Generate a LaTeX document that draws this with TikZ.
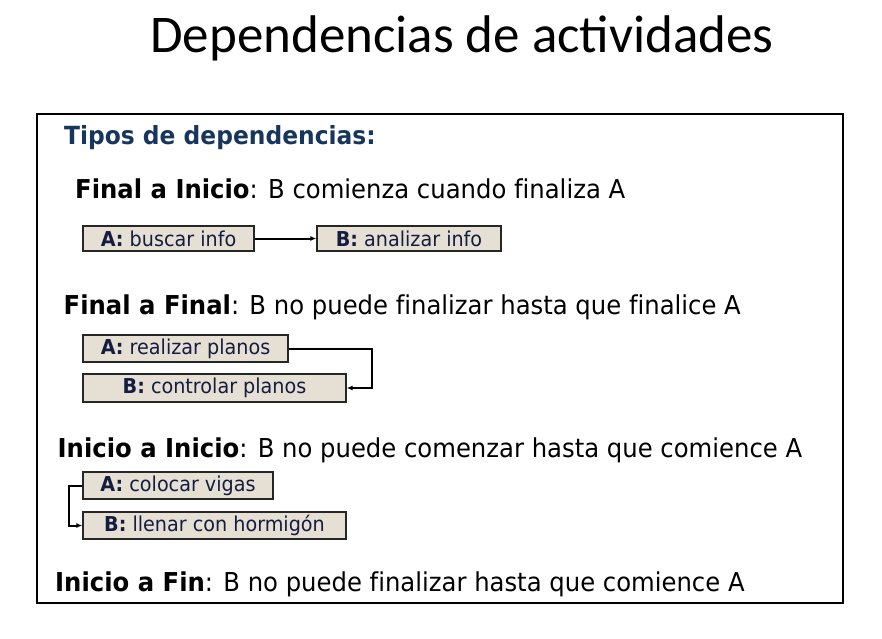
\documentclass[tikz,border=0pt]{standalone}
\usepackage{fontspec}
\setmainfont{DejaVu Sans}[FakeStretch=0.935, Ligatures=NoCommon]
\newfontfamily\titlefont{Carlito}
\usetikzlibrary{arrows.meta}
\definecolor{headblue}{RGB}{23,54,93}
\definecolor{taskfill}{RGB}{230,224,212}
\definecolor{tasktext}{RGB}{20,28,64}
\begin{document}
\begin{tikzpicture}[
      x=1pt, y=1pt,
      heading/.style={anchor=base west, inner sep=0, font=\fontsize{26}{30}\selectfont},
      task/.style={draw=black!85, line width=1.4pt, fill=taskfill, inner sep=0,
        text=tasktext, font=\fontsize{20.5}{24}\selectfont},
      arrow/.style={-{Latex[length=6pt, width=5pt]}, line width=2pt}
    ]
    \useasboundingbox (0,0) rectangle (882,-638);
    \node[anchor=base, inner sep=0, font=\titlefont\fontsize{53}{60}\selectfont]
      at (462,-52) (title) {Dependencias de actividades};
    \draw[line width=2.6pt] (37,-114) rectangle (843,-603);

    \node[heading, text=headblue, font=\bfseries\fontsize{25}{28}\selectfont]
      at (64,-144.5) (tipos) {Tipos de dependencias:};
    \node[heading] at (75,-198.5) (fi) {\textbf{Final a Inicio}: B comienza cuando finaliza A};
    \node[heading] at (63.5,-314.5) (ff) {\textbf{Final a Final}: B no puede finalizar hasta que finalice A};
    \node[heading] at (57.5,-457.5) (ii) {\textbf{Inicio a Inicio}: B no puede comenzar hasta que comience A};
    \node[heading] at (55,-591.5) (ifin) {\textbf{Inicio a Fin}: B no puede finalizar hasta que comience A};

    \node[task, minimum width=171, minimum height=25] at (168.5,-238.5) (buscar) {\textbf{A:} buscar info};
    \node[task, minimum width=184, minimum height=25] at (409,-238.5) (analizar) {\textbf{B:} analizar info};
    \node[task, minimum width=205, minimum height=27] at (185.5,-348.5) (realizar) {\textbf{A:} realizar planos};
    \node[task, minimum width=263, minimum height=28] at (214.5,-388) (controlar) {\textbf{B:} controlar planos};
    \node[task, minimum width=190, minimum height=27] at (178,-485.5) (colocar) {\textbf{A:} colocar vigas};
    \node[task, minimum width=263, minimum height=27] at (214.5,-525.5) (llenar) {\textbf{B:} llenar con hormigón};

    \draw[arrow] (buscar) -- (analizar);
    \draw[arrow] (realizar.east) -- ++(83,0) |- (controlar.east);
    \draw[arrow] (colocar.west) -- ++(-13,0) |- (llenar.west);
  \end{tikzpicture}
\end{document}
